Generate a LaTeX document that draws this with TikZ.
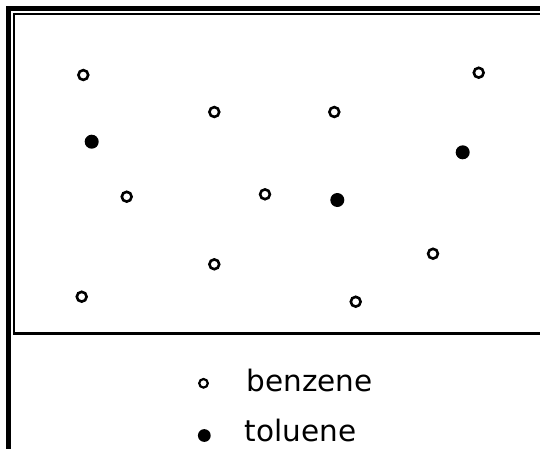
\documentclass[tikz,border=0pt]{standalone}
\usepackage{fontspec}
\setmainfont{DejaVu Sans}
\begin{document}
\begin{tikzpicture}[x=1pt,y=-1pt,
  opendot/.style={circle,draw=black,line width=2.6pt,fill=white,minimum size=9.8pt,inner sep=0pt},
  fulldot/.style={circle,fill=black,minimum size=14pt,inner sep=0pt},
  legopen/.style={circle,draw=black,line width=2.2pt,minimum size=8.6pt,inner sep=0pt},
  legfull/.style={circle,fill=black,minimum size=12.8pt,inner sep=0pt},
  legtext/.style={anchor=base west,inner sep=0pt,font=\fontsize{29.5}{35}\selectfont}]
\useasboundingbox (0,0) rectangle (540,448);
\clip (0,0) rectangle (540,448);
\fill[white] (0,0) rectangle (540,448);
% outer frame
\draw[line width=5pt] (8.7,470) -- (8.7,8.7) -- (560,8.7);
% inner box
\draw[line width=2.3pt] (14,14) rectangle (560,333.6);
% benzene molecules
\node[opendot] (b1) at (83.3,75) {};
\node[opendot] (b2) at (214.3,112) {};
\node[opendot] (b3) at (334.3,112) {};
\node[opendot] (b4) at (478.7,72.7) {};
\node[opendot] (b5) at (126.7,196.7) {};
\node[opendot] (b6) at (265,194.3) {};
\node[opendot] (b7) at (433,253.7) {};
\node[opendot] (b8) at (214.3,264.3) {};
\node[opendot] (b9) at (81.7,296.7) {};
\node[opendot] (b10) at (355.7,301.7) {};
% toluene molecules
\node[fulldot] (t1) at (91.7,141.7) {};
\node[fulldot] (t2) at (337.3,200) {};
\node[fulldot] (t3) at (462.7,152.3) {};
% legend
\node[legopen] (lb) at (203.5,383.3) {};
\node[legtext] (lbt) at (246.5,391) {benzene};
\node[legfull] (lt) at (204.3,435.5) {};
\node[legtext] (ltt) at (244.5,441) {toluene};
\end{tikzpicture}
\end{document}
